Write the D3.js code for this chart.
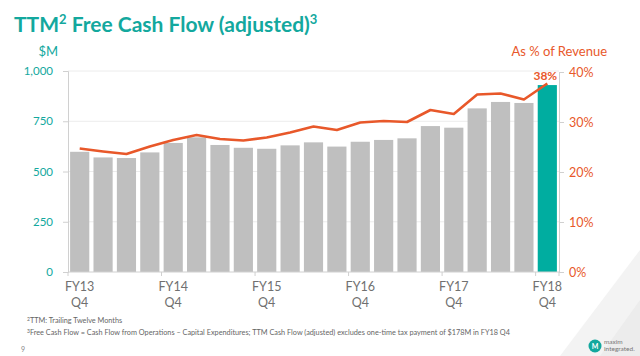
<!DOCTYPE html>
<html><head><meta charset="utf-8">
<script src="https://cdn.jsdelivr.net/npm/d3@7"></script>
<style>html,body{margin:0;padding:0;background:#fff;}svg{display:block;font-family:Lato,"Open Sans",sans-serif;}</style>
</head><body>
<script>
const categories = ["FY13 Q4","FY14 Q1","FY14 Q2","FY14 Q3","FY14 Q4","FY15 Q1","FY15 Q2","FY15 Q3","FY15 Q4","FY16 Q1","FY16 Q2","FY16 Q3","FY16 Q4","FY17 Q1","FY17 Q2","FY17 Q3","FY17 Q4","FY18 Q1","FY18 Q2","FY18 Q3","FY18 Q4"];
const fcfValues = [598,570,567,595,642,670,632,618,613,630,645,624,648,657,665,726,718,814,846,841,930];
const pctValues = [24.7,24.1,23.6,25.1,26.4,27.4,26.6,26.3,26.9,27.9,29.1,28.4,29.9,30.2,30.0,32.4,31.6,35.5,35.7,34.5,37.7];
const leftTicks = [0,250,500,750,1000];
const rightTicks = [0,10,20,30,40];
const xLabelIdx = [0,4,8,12,16,20];
const xLabels = [["FY13","Q4"],["FY14","Q4"],["FY15","Q4"],["FY16","Q4"],["FY17","Q4"],["FY18","Q4"]];

const W=640,H=356;
const teal="#13A89E", orange="#E8582A", grey="#BFBFBF", hl="#00ADA0", txt="#707070";
const svg=d3.select("body").append("svg").attr("width",W).attr("height",H);

// background decoration
svg.append("polygon").attr("points","640,250 560,356 640,356").attr("fill","#f3f3f3");
svg.append("polygon").attr("points","640,300 600,356 640,356").attr("fill","#ececec");

const x=d3.scaleBand().domain(categories).range([68,559]).paddingInner(0.18).paddingOuter(0.09);
const y=d3.scaleLinear().domain([0,1000]).range([272,71]);
const y2=d3.scaleLinear().domain([0,40]).range([272,72]);

// gridlines
svg.append("g").selectAll("line").data(leftTicks.slice(1)).join("line")
 .attr("x1",68).attr("x2",559).attr("y1",d=>y(d)).attr("y2",d=>y(d))
 .attr("stroke","#ececec").attr("stroke-width",1);

// bars
svg.append("g").selectAll("rect").data(fcfValues).join("rect")
 .attr("x",(d,i)=>x(categories[i])).attr("width",x.bandwidth())
 .attr("y",d=>y(d)).attr("height",d=>y(0)-y(d))
 .attr("fill",(d,i)=>i===fcfValues.length-1?hl:grey);

// left axis
const gl=svg.append("g").attr("transform","translate(68,0)")
 .call(d3.axisLeft(y).tickValues(leftTicks).tickFormat(d3.format(",")).tickSize(5).tickPadding(10));
gl.select(".domain").attr("stroke","#d0d0d0");
gl.selectAll(".tick line").attr("stroke","#d0d0d0");
gl.selectAll("text").attr("fill",teal).attr("font-size",11.5).attr("font-family","Lato,sans-serif");

// right axis
const gr=svg.append("g").attr("transform","translate(559,0)")
 .call(d3.axisRight(y2).tickValues(rightTicks).tickFormat(d=>d+"%").tickSize(5).tickPadding(5));
gr.select(".domain").attr("stroke","#d0d0d0");
gr.selectAll(".tick line").attr("stroke","#d0d0d0");
gr.selectAll("text").attr("fill",orange).attr("font-size",12.5).attr("font-family","Lato,sans-serif");

// bottom axis
const step=x.step();
const gb=svg.append("g").attr("transform","translate(0,272)");
gb.append("line").attr("x1",68).attr("x2",559).attr("stroke","#d0d0d0");
gb.selectAll("line.t").data([0,4,8,12,16,20,21]).join("line").attr("class","t")
 .attr("x1",d=>68+d*step).attr("x2",d=>68+d*step).attr("y1",0).attr("y2",4).attr("stroke","#d0d0d0");
const xl=gb.selectAll("text").data(xLabelIdx).join("text")
 .attr("text-anchor","middle").attr("fill",txt).attr("font-size",12.5);
xl.append("tspan").attr("y",19).attr("x",d=>x(categories[d])+x.bandwidth()/2).text((d,i)=>xLabels[i][0]);
xl.append("tspan").attr("y",35).attr("x",d=>x(categories[d])+x.bandwidth()/2).text((d,i)=>xLabels[i][1]);

// line
const line=d3.line().x((d,i)=>x(categories[i])+x.bandwidth()/2).y(d=>y2(d));
svg.append("path").datum(pctValues).attr("d",line).attr("fill","none")
 .attr("stroke",orange).attr("stroke-width",2.6).attr("stroke-linejoin","round");

// 38% label
const last=pctValues.length-1;
svg.append("text").attr("x",x(categories[last])+x.bandwidth()/2-2).attr("y",y2(pctValues[last])-4)
 .attr("text-anchor","middle").attr("fill",orange).attr("font-weight","bold").attr("font-size",12)
 .text(Math.round(pctValues[last])+"%");

// title
const t=svg.append("text").attr("x",14).attr("y",32).attr("fill",teal).attr("font-weight","bold").attr("font-size",21);
t.append("tspan").text("TTM");
t.append("tspan").attr("font-size",13).attr("dy",-8).text("2");
t.append("tspan").attr("dy",8).text(" Free Cash Flow (adjusted)");
t.append("tspan").attr("font-size",13).attr("dy",-8).text("3");

svg.append("text").attr("x",58).attr("y",56).attr("text-anchor","end").attr("fill",teal).attr("font-size",13).text("$M");
svg.append("text").attr("x",607).attr("y",56).attr("text-anchor","end").attr("fill",orange).attr("font-size",13).text("As % of Revenue");

// footnotes
const fn=[["2","TTM: Trailing Twelve Months"],["3","Free Cash Flow = Cash Flow from Operations – Capital Expenditures; TTM Cash Flow (adjusted) excludes one-time tax payment of $178M in FY18 Q4"]];
fn.forEach((f,i)=>{
  const tt=svg.append("text").attr("x",27).attr("y",323+i*12).attr("fill","#666").attr("font-size",7.3);
  tt.append("tspan").attr("font-size",5).attr("dy",-2).text(f[0]);
  tt.append("tspan").attr("dy",2).text(f[1]);
});
svg.append("text").attr("x",21).attr("y",352).attr("fill","#888").attr("font-size",7).text("9");

// logo
svg.append("circle").attr("cx",595).attr("cy",346).attr("r",6.5).attr("fill","#13A89E");
svg.append("text").attr("x",595).attr("y",348.5).attr("text-anchor","middle").attr("fill","#fff").attr("font-weight","bold").attr("font-size",7).text("M");
svg.append("text").attr("x",604).attr("y",343.5).attr("fill","#777").attr("font-size",6.5).text("maxim");
svg.append("text").attr("x",604).attr("y",350.5).attr("fill","#777").attr("font-size",6.5).text("integrated.");
</script>
</body></html>
